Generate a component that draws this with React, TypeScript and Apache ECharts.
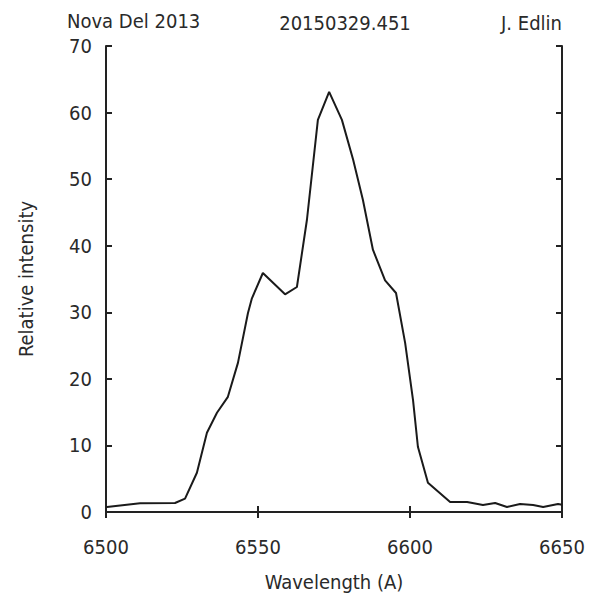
import React, { useEffect, useRef } from "react";
import * as echarts from "echarts";

const titleLeft = "Nova Del 2013";
const titleMid = "20150329.451";
const titleRight = "J. Edlin";
const xName = "Wavelength (A)";
const yName = "Relative intensity";

const wavelengths = [
  6500, 6500.3, 6511.2, 6522.7, 6526.0, 6529.9, 6533.2, 6536.5, 6540.1, 6543.4,
  6546.7, 6548.0, 6551.6, 6558.9, 6562.8, 6566.1, 6569.7, 6573.4, 6577.6, 6581.3,
  6584.5, 6587.8, 6591.8, 6595.4, 6598.4, 6601.0, 6602.6, 6605.9, 6613.2, 6618.8,
  6624.0, 6628.0, 6631.9, 6636.2, 6640.5, 6643.8, 6648.7, 6650,
];
const intensities = [
  0.75, 0.75, 1.3, 1.35, 2.0, 5.9, 11.9, 14.9, 17.3, 22.4,
  29.9, 32.1, 35.9, 32.7, 33.8, 43.9, 58.9, 63.1, 58.9, 52.9,
  46.9, 39.4, 34.8, 32.9, 25.4, 16.8, 9.8, 4.4, 1.5, 1.5,
  1.05, 1.35, 0.75, 1.2, 1.05, 0.75, 1.2, 1.1,
];

const FONT = "'DejaVu Sans Condensed', 'DejaVu Sans', sans-serif";
const TXT = "#2a2a2a";

export default function App() {
  const ref = useRef<HTMLDivElement>(null);
  useEffect(() => {
    if (!ref.current) return;
    const chart = echarts.init(ref.current, null, { renderer: "svg" });
    const data = wavelengths.map((w, i) => [w, intensities[i]]);
    const axisLine = { show: true, lineStyle: { color: "#222", width: 2 } };
    const tick = { show: true, inside: true, length: 6, lineStyle: { color: "#222", width: 2 } };
    chart.setOption({
      animation: false,
      backgroundColor: "#fff",
      grid: { left: 106, right: 52, top: 46, bottom: 82, containLabel: false },
      graphic: [
        { type: "text", left: 67, top: 11, style: { text: titleLeft, font: `20px ${FONT}`, fill: TXT } },
        { type: "text", x: 345, y: 23, style: { text: titleMid, font: `20px ${FONT}`, fill: TXT, textAlign: "center", textVerticalAlign: "middle" } },
        { type: "text", x: 562, y: 23, style: { text: titleRight, font: `20px ${FONT}`, fill: TXT, textAlign: "right", textVerticalAlign: "middle" } },
        { type: "text", x: 334, y: 582, style: { text: xName, font: `20px ${FONT}`, fill: TXT, textAlign: "center", textVerticalAlign: "middle" } },
      ],
      xAxis: [
        {
          type: "value", min: 6500, max: 6650, interval: 50, position: "bottom",
          axisLine, axisTick: tick, splitLine: { show: false },
          axisLabel: { fontFamily: FONT, fontSize: 20, color: TXT, margin: 25, formatter: (v: number) => String(v) },
        },
        {
          type: "value", min: 6500, max: 6650, interval: 50, position: "top",
          axisLine, axisTick: tick, splitLine: { show: false }, axisLabel: { show: false },
        },
      ],
      yAxis: [
        {
          type: "value", min: 0, max: 70, interval: 10, position: "left",
          name: yName, nameLocation: "middle", nameGap: 70, nameRotate: 90,
          nameTextStyle: { fontFamily: FONT, fontSize: 20, color: TXT },
          axisLine, axisTick: tick, splitLine: { show: false },
          axisLabel: { fontFamily: FONT, fontSize: 20, color: TXT, margin: 14 },
        },
        {
          type: "value", min: 0, max: 70, interval: 10, position: "right",
          axisLine, axisTick: tick, splitLine: { show: false }, axisLabel: { show: false },
        },
      ],
      series: [
        {
          type: "line", data, xAxisIndex: 0, yAxisIndex: 0, showSymbol: false,
          lineStyle: { color: "#1a1a1a", width: 2 }, z: 1,
        },
      ],
    });
    return () => chart.dispose();
  }, []);
  return <div ref={ref} style={{ width: 614, height: 594, margin: "-8px -8px 0 -8px" }} />;
}
